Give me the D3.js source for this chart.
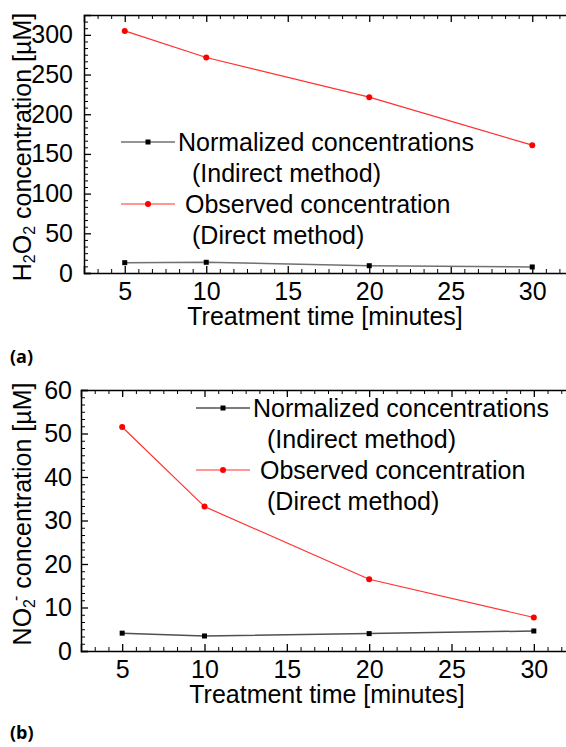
<!DOCTYPE html>
<html lang="en">
<head>
  <meta charset="UTF-8">
  <title>Concentration vs treatment time</title>
  <style>
    body { margin: 0; background: #fff; }
    svg { display: block; font-family: "Liberation Sans", Arial, sans-serif; }
  </style>
</head>
<body>
  <svg width="566" height="747" id="chart"></svg>
  <script src="https://d3js.org/d3.v7.min.js"></script>
  <script>
    // treatment times (minutes)
    let times = [5, 10, 20, 30];
    let xTicks = [5, 10, 15, 20, 25, 30];

    // panel (a): H2O2
    let h2o2Normalized = [13, 13.5, 9.2, 7.6];
    let h2o2Observed = [305, 271.5, 221.5, 161];
    let h2o2Ticks = [0, 50, 100, 150, 200, 250, 300];

    // panel (b): NO2-
    let no2Normalized = [4.1, 3.45, 4.0, 4.6];
    let no2Observed = [51.5, 33.2, 16.5, 7.7];
    let no2Ticks = [0, 10, 20, 30, 40, 50, 60];

    let legendLabels = [
      ['Normalized concentrations', '(Indirect method)'],
      ['Observed concentration', '(Direct method)']
    ];

    let svg = d3.select('#chart');

    function drawPanel(cfg) {
      let g = svg.append('g');
      let x = d3.scaleLinear().domain([2.5, 32.5]).range([cfg.left, cfg.right]);
      let y = d3.scaleLinear().domain(cfg.yDomain).range([cfg.bottom, cfg.top]);

      let xMinor = d3.range(2.5, 32.5, 5 / 6).filter(v => Math.abs(v % 5) > 0.01);
      let yStep = cfg.yTicks[1] - cfg.yTicks[0];
      let yMinor = d3.range(0, cfg.yDomain[1], yStep / 6).filter(v => Math.abs(v % yStep) > 0.01);

      // axes: bottom, top, left, right (ticks inward)
      let axes = [
        [d3.axisBottom(x), `translate(0,${cfg.bottom})`, xTicks, xMinor, true, 9],
        [d3.axisTop(x), `translate(0,${cfg.top})`, xTicks, xMinor, false, 9],
        [d3.axisLeft(y), `translate(${cfg.left},0)`, cfg.yTicks, yMinor, true, cfg.yPad],
        [d3.axisRight(y), `translate(${cfg.right},0)`, cfg.yTicks, yMinor, false, 9]
      ];
      axes.forEach(([axis, tr, major, minor, labels, pad]) => {
        let ga = g.append('g').attr('transform', tr)
            .call(axis.tickValues(major).tickSize(-7).tickPadding(pad)
              .tickFormat(labels ? d3.format('d') : ''));
        ga.select('.domain').attr('stroke-width', 1.5);
        ga.selectAll('.tick line').attr('stroke-width', 1.3);
        ga.selectAll('text').attr('font-size', 25).attr('fill', '#000')
            .attr('font-family', '"Liberation Sans", Arial, sans-serif');
        let gm = g.append('g').attr('transform', tr)
            .call(axis.tickValues(minor).tickSize(-4).tickFormat(''));
        gm.select('.domain').remove();
        gm.selectAll('.tick line').attr('stroke-width', 1);
      });

      // series
      let lineGen = vals => d3.line().x((d, i) => x(times[i])).y(d => y(d))(vals);
      g.append('path').attr('d', lineGen(cfg.normalized))
          .attr('fill', 'none').attr('stroke', cfg.blackLine).attr('stroke-width', 1.5);
      g.append('path').attr('d', lineGen(cfg.observed))
          .attr('fill', 'none').attr('stroke', '#ff3030').attr('stroke-width', 1.2);
      g.selectAll('.sq').data(cfg.normalized).join('rect')
          .attr('x', (d, i) => x(times[i]) - 2.5).attr('y', d => y(d) - 2.5)
          .attr('width', 5).attr('height', 5).attr('fill', '#000');
      g.selectAll('.dot').data(cfg.observed).join('circle')
          .attr('cx', (d, i) => x(times[i])).attr('cy', d => y(d))
          .attr('r', 3).attr('fill', '#ff0000');

      // legend
      let lg = cfg.legend;
      legendLabels.forEach((lines, k) => {
        let ly = lg.y + k * lg.gap;
        g.append('line').attr('x1', lg.x).attr('x2', lg.x + 54)
            .attr('y1', ly).attr('y2', ly)
            .attr('stroke', k === 0 ? cfg.blackLine : '#ff3030')
            .attr('stroke-width', k === 0 ? 1.5 : 1.2);
        if (k === 0) {
          g.append('rect').attr('x', lg.x + 27 - 2.5).attr('y', ly - 2.5)
              .attr('width', 5).attr('height', 5).attr('fill', '#000');
        } else {
          g.append('circle').attr('cx', lg.x + 27).attr('cy', ly).attr('r', 3).attr('fill', '#ff0000');
        }
        g.append('text').attr('x', lg.x + (k === 0 ? 57 : 64)).attr('y', ly + 9)
            .attr('font-size', 25).text(lines[0]);
        g.append('text').attr('x', lg.x + 71).attr('y', ly + 9 + lg.gap / 2)
            .attr('font-size', 25).text(lines[1]);
      });

      // axis titles
      g.append('text').attr('x', cfg.xTitle[0]).attr('y', cfg.xTitle[1])
          .attr('text-anchor', 'middle').attr('font-size', 25).text('Treatment time [minutes]');
      let yt = g.append('text')
          .attr('transform', `translate(${cfg.yTitle[0]},${cfg.yTitle[1]}) rotate(-90)`)
          .attr('text-anchor', 'middle').attr('font-size', 25);
      cfg.yTitleParts.forEach(p => {
        let t = yt.append('tspan').text(p[0]);
        if (p[1] === 'sub') t.attr('font-size', 16).attr('baseline-shift', '-25%');
        if (p[1] === 'sup') t.attr('font-size', 16).attr('baseline-shift', '60%').attr('dx', -2);
      });

      // panel label
      svg.append('text').attr('x', 10).attr('y', cfg.labelY)
          .attr('font-family', '"Open Sans", sans-serif').attr('font-weight', 'bold')
          .attr('font-size', 18).text(cfg.label);
    }

    drawPanel({
      left: 84, right: 573, top: 15, bottom: 273,
      yDomain: [0, 325], yTicks: h2o2Ticks, yPad: 11,
      normalized: h2o2Normalized, observed: h2o2Observed,
      blackLine: '#707070',
      legend: { x: 121, y: 142, gap: 62 },
      xTitle: [325, 325], yTitle: [31, 147],
      yTitleParts: [['H'], ['2', 'sub'], ['O'], ['2', 'sub'], [' concentration [µM]']],
      label: '(a)', labelY: 363
    });

    drawPanel({
      left: 81, right: 575, top: 390, bottom: 651,
      yDomain: [0, 60], yTicks: no2Ticks, yPad: 9,
      normalized: no2Normalized, observed: no2Observed,
      blackLine: '#505050',
      legend: { x: 196, y: 408, gap: 62 },
      xTitle: [327, 703], yTitle: [31, 514],
      yTitleParts: [['NO'], ['2', 'sub'], ['-', 'sup'], [' concentration [µM]']],
      label: '(b)', labelY: 739
    });
  </script>
</body>
</html>
